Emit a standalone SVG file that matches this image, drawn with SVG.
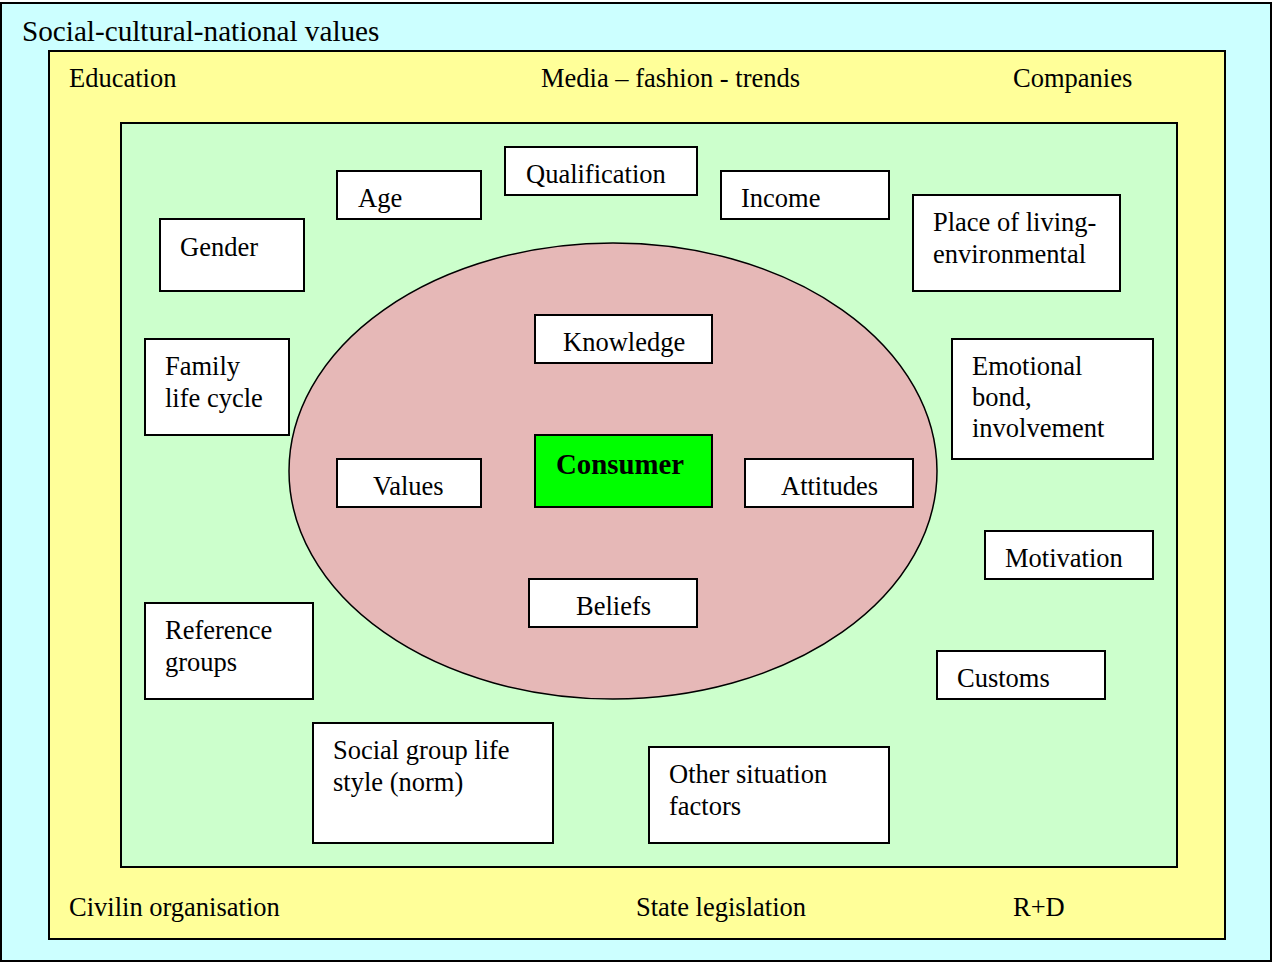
<svg xmlns="http://www.w3.org/2000/svg" width="1273" height="963" viewBox="0 0 1273 963">
<style>
text{font-family:'Liberation Serif','Times New Roman',serif;font-size:26.5px;fill:#000}
.b{fill:#fff;stroke:#000;stroke-width:2}
.bold{font-weight:bold;font-size:28.8px}
.title{font-size:29.2px}
</style>
<g font-family="Liberation Serif, serif">
<rect x="1" y="3" width="1270" height="958" fill="#CCFFFF" stroke="#000" stroke-width="2"/>
<text class="title" x="22" y="41">Social-cultural-national values</text>
<rect x="49" y="51" width="1176" height="888" fill="#FFFF99" stroke="#000" stroke-width="2"/>
<text x="69" y="87">Education</text>
<text x="541" y="87">Media – fashion - trends</text>
<text x="1013" y="87">Companies</text>
<text x="69" y="916">Civilin organisation</text>
<text x="636" y="916">State legislation</text>
<text x="1013" y="916">R+D</text>
<rect x="121" y="123" width="1056" height="744" fill="#CCFFCC" stroke="#000" stroke-width="2"/>
<ellipse cx="613" cy="471" rx="324" ry="228" fill="#E6B8B7" stroke="#000" stroke-width="1.5"/>
<g id="connectors"/>
<g id="qualification"><rect class="b" x="505" y="147" width="192" height="48"/><text x="526" y="183">Qualification</text></g>
<g id="age"><rect class="b" x="337" y="171" width="144" height="48"/><text x="358" y="207">Age</text></g>
<g id="income"><rect class="b" x="721" y="171" width="168" height="48"/><text x="741" y="207">Income</text></g>
<g id="gender"><rect class="b" x="160" y="219" width="144" height="72"/><text x="180" y="256">Gender</text></g>
<g id="place"><rect class="b" x="913" y="195" width="207" height="96"/><text x="933" y="231">Place of living-</text><text x="933" y="263">environmental</text></g>
<g id="knowledge"><rect class="b" x="535" y="315" width="177" height="48"/><text x="563" y="351">Knowledge</text></g>
<g id="family"><rect class="b" x="145" y="339" width="144" height="96"/><text x="165" y="375">Family</text><text x="165" y="407">life cycle</text></g>
<g id="emotional"><rect class="b" x="952" y="339" width="201" height="120"/><text x="972" y="375">Emotional</text><text x="972" y="406">bond,</text><text x="972" y="437">involvement</text></g>
<g id="values"><rect class="b" x="337" y="459" width="144" height="48"/><text x="373" y="495">Values</text></g>
<g id="consumer"><rect x="535" y="435" width="177" height="72" fill="#00FF00" stroke="#000" stroke-width="2"/><text class="bold" x="556" y="474">Consumer</text></g>
<g id="attitudes"><rect class="b" x="745" y="459" width="168" height="48"/><text x="781" y="495">Attitudes</text></g>
<g id="motivation"><rect class="b" x="985" y="531" width="168" height="48"/><text x="1005" y="567">Motivation</text></g>
<g id="beliefs"><rect class="b" x="529" y="579" width="168" height="48"/><text x="576" y="615">Beliefs</text></g>
<g id="reference"><rect class="b" x="145" y="603" width="168" height="96"/><text x="165" y="639">Reference</text><text x="165" y="671">groups</text></g>
<g id="customs"><rect class="b" x="937" y="651" width="168" height="48"/><text x="957" y="687">Customs</text></g>
<g id="social"><rect class="b" x="313" y="723" width="240" height="120"/><text x="333" y="759">Social group life</text><text x="333" y="791">style (norm)</text></g>
<g id="other"><rect class="b" x="649" y="747" width="240" height="96"/><text x="669" y="783">Other situation</text><text x="669" y="815">factors</text></g>
</g>
</svg>
